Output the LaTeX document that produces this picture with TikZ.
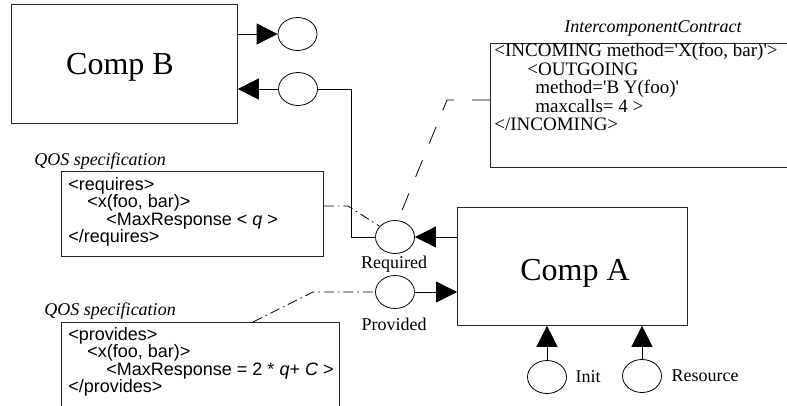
\documentclass[tikz,border=0pt]{standalone}
\usepackage{fontspec}
\setmainfont{Liberation Serif}
\newfontfamily\arialfont{Liberation Sans}
\usetikzlibrary{arrows.meta,shapes.geometric}
\begin{document}
\begin{tikzpicture}[x=1pt,y=-1pt, line width=0.8pt,
  box/.style={draw=black!85, rectangle, inner sep=0pt, anchor=north west},
  port/.style={draw, ellipse, minimum width=39pt, minimum height=33pt, inner sep=0pt},
  arr/.style={-{Triangle[length=21pt,width=21pt]}},
  bigfont/.style={font=\fontsize{32}{36}\selectfont},
  lblfont/.style={font=\fontsize{18}{20}\selectfont},
  itlbl/.style={font=\fontsize{18}{20}\selectfont\itshape},
  xmlfont/.style={font=\fontsize{19}{18.6}\selectfont, align=left, inner sep=0pt, anchor=north west},
  qosfont/.style={font=\arialfont\fontsize{18}{17.3}\selectfont, align=left, inner sep=0pt, anchor=north west},
  ctrline/.style={dash pattern=on 18pt off 18pt},
  ddline/.style={dash pattern=on 10pt off 4pt on 1.5pt off 4pt}
]
\useasboundingbox (0,0) rectangle (787,405);
\clip (0,0) rectangle (787,405);
\fill[white] (0,0) rectangle (787,405);

% components
\node[box, minimum width=226pt, minimum height=119pt] (compB) at (11,4) {};
\node[bigfont, anchor=base] (compBlbl) at (120,74) {Comp B};
\node[box, minimum width=230pt, minimum height=118pt] (compA) at (457,207) {};
\node[bigfont, anchor=base] (compAlbl) at (575,280) {Comp A};

% ports
\node[port] (eB1) at (297.5,34) {};
\node[port] (eB2) at (298,89) {};
\node[port] (req) at (395,237) {};
\node[port] (prov) at (395,292) {};
\node[port] (init) at (547,377) {};
\node[port] (res) at (642,376) {};

\node[lblfont, anchor=base] (reqlbl) at (394,268) {Required};
\node[lblfont, anchor=base] (provlbl) at (394,330) {Provided};
\node[lblfont, anchor=base] (initlbl) at (588,382) {Init};
\node[lblfont, anchor=base] (reslbl) at (705,381) {Resource};

% contract box
\node[itlbl, anchor=base] (ctrlbl) at (653,32) {IntercomponentContract};
\node[box, minimum width=300pt, minimum height=124pt] (contract) at (490,43) {};
\node[xmlfont] (ctrtext) at (494,42) {\rule{0pt}{14pt}<INCOMING method=\textquotesingle X(foo, bar)\textquotesingle>\\
\hspace*{33pt}<OUTGOING\\
\hspace*{41pt}method=\textquotesingle B Y(foo)\textquotesingle\\
\hspace*{41pt}maxcalls= 4 >\\
</INCOMING>};

% QOS boxes
\node[itlbl, anchor=base] (qos1lbl) at (100,165) {QOS specification};
\node[box, minimum width=262pt, minimum height=85pt] (qos1) at (61,171) {};
\node[qosfont] (qos1text) at (68,176) {\rule{0pt}{14pt}<requires>\\
\hspace*{19pt}<x(foo, bar)>\\
\hspace*{38pt}<MaxResponse < \textit{q} >\\
</requires>};

\node[itlbl, anchor=base] (qos2lbl) at (110,315) {QOS specification};
\node[box, minimum width=278pt, minimum height=110pt] (qos2) at (61,322) {};
\node[qosfont] (qos2text) at (68,326) {\rule{0pt}{14pt}<provides>\\
\hspace*{19pt}<x(foo, bar)>\\
\hspace*{38pt}<MaxResponse = 2 * \textit{q}+ \textit{C} >\\
</provides>};

% connectors
\draw[arr] (compB.east |- eB1) -- (eB1.west);
\draw[arr] (eB2.west) -- (eB2.west -| compB.east);
\coordinate (bendB) at (351,89);
\draw (eB2.east) -- (bendB) |- (req.west);
\draw[arr] (compA.west |- req) -- (req.east);
\draw[arr] (prov.east) -- (prov.east -| compA.west);
\draw[arr] (init.north) -- (init.north |- compA.south);
\draw[arr] (res.north) -- (res.north |- compA.south);

\coordinate (ctrk) at (447,100);
\draw[ctrline] (ctrk -| contract.west) -- (ctrk) -- (req.80);

\coordinate (q1k) at (348,206);
\draw[ddline] (q1k -| qos1.east) -- (q1k) -- (req.145);

\coordinate (q2a) at (253,322);
\coordinate (q2k) at (313,292);
\draw[ddline] (q2a) -- (q2k) -- (prov.west);
\end{tikzpicture}
\end{document}
